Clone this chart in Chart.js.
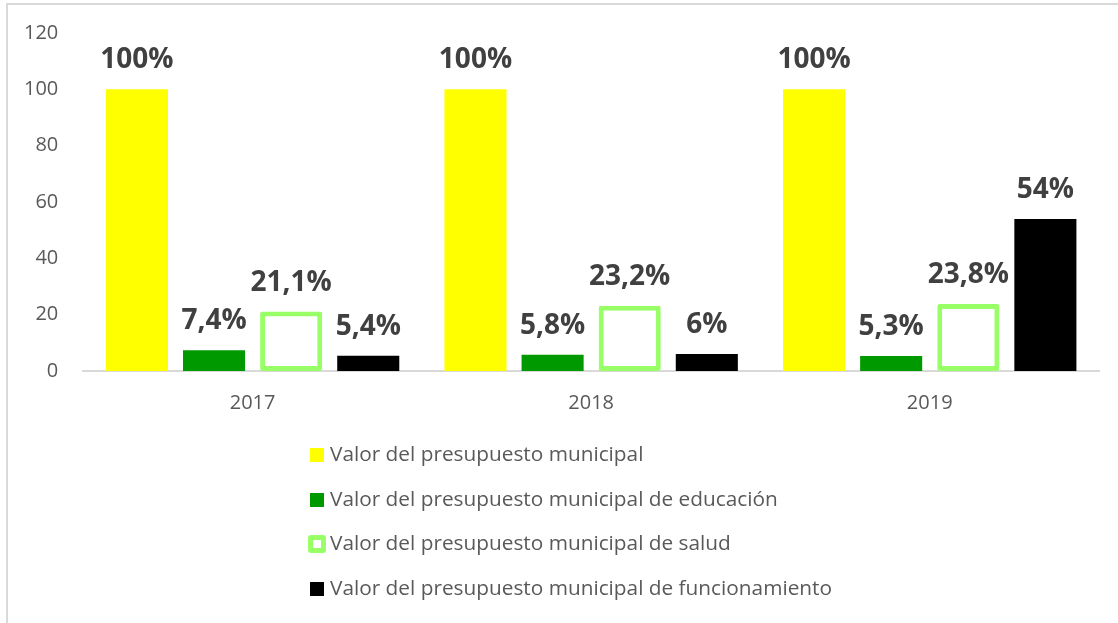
<!DOCTYPE html>
<html>
<head>
<meta charset="utf-8">
<title>Presupuesto municipal</title>
<script src="https://cdn.jsdelivr.net/npm/chart.js"></script>
<style>
  body { margin: 0; background: #fff; }
  canvas { display: block; }
</style>
</head>
<body>
<canvas id="myChart" width="1118" height="623"></canvas>
<script>
// datos del grafico
const anios = ["2017", "2018", "2019"];
const municipal = [100, 100, 100];
const educacion = [7.4, 5.8, 5.3];
const salud = [21.1, 23.2, 23.8];
const funcionamiento = [5.4, 6, 54];
const ticksY = [0, 20, 40, 60, 80, 100, 120];

const nombres = [
  "Valor del presupuesto municipal",
  "Valor del presupuesto municipal de educación",
  "Valor del presupuesto municipal de salud",
  "Valor del presupuesto municipal de funcionamiento"
];

const fuente = "'Open Sans', 'Noto Sans', sans-serif";

// etiquetas con el porcentaje encima de cada barra
const etiquetas = {
  id: "etiquetas",
  afterDatasetsDraw(chart) {
    const ctx = chart.ctx;
    const y = chart.scales.y;
    ctx.save();
    ctx.font = "bold 28px " + fuente;
    ctx.fillStyle = "#404040";
    ctx.textAlign = "center";
    ctx.textBaseline = "middle";
    chart.data.datasets.forEach(function(ds, i) {
      chart.getDatasetMeta(i).data.forEach(function(bar, j) {
        const v = ds.data[j];
        const txt = String(v).replace(".", ",") + "%";
        ctx.fillText(txt, bar.x, y.getPixelForValue(v) - 29);
      });
    });
    ctx.restore();
  }
};

// leyenda en columna debajo del eje
const leyenda = {
  id: "leyenda",
  afterDraw(chart) {
    const ctx = chart.ctx;
    const x0 = 310;
    const filas = [455, 500, 544, 589];
    ctx.save();
    ctx.font = "20.8px " + fuente;
    ctx.textBaseline = "middle";
    chart.data.datasets.forEach(function(ds, i) {
      const yc = filas[i];
      if (ds.borderWidth > 0) {
        ctx.fillStyle = ds.borderColor;
        ctx.beginPath();
        ctx.roundRect(x0 - 2, yc - 9, 18, 18, 3);
        ctx.fill();
        ctx.fillStyle = "#fff";
        ctx.fillRect(x0 + 3, yc - 4, 8, 8);
      } else {
        ctx.fillStyle = ds.backgroundColor;
        ctx.fillRect(x0, yc - 7, 14, 14);
      }
      ctx.fillStyle = "#595959";
      ctx.fillText(ds.label, x0 + 20, yc);
    });
    ctx.restore();
  }
};

// marco gris del area del grafico
const marco = {
  id: "marco",
  beforeDraw(chart) {
    const ctx = chart.ctx;
    ctx.save();
    ctx.strokeStyle = "#d9d9d9";
    ctx.lineWidth = 2;
    ctx.beginPath();
    ctx.moveTo(7, chart.height);
    ctx.lineTo(7, 4);
    ctx.lineTo(chart.width, 4);
    ctx.stroke();
    ctx.restore();
  }
};

const ctx = document.getElementById("myChart").getContext("2d");
const myChart = new Chart(ctx, {
  type: "bar",
  data: {
    labels: anios,
    datasets: [
      { label: nombres[0], data: municipal, backgroundColor: "#ffff00", borderWidth: 0 },
      { label: nombres[1], data: educacion, backgroundColor: "#009900", borderWidth: 0 },
      { label: nombres[2], data: salud, backgroundColor: "#ffffff", borderColor: "#99ff66",
        borderWidth: 5, borderSkipped: false, borderRadius: 2 },
      { label: nombres[3], data: funcionamiento, backgroundColor: "#000000", borderWidth: 0 }
    ]
  },
  options: {
    responsive: false,
    animation: false,
    categoryPercentage: 0.911,
    barPercentage: 0.805,
    layout: { padding: { left: 7, right: 19, top: 33, bottom: 196 } },
    plugins: {
      legend: { display: false },
      tooltip: { enabled: false }
    },
    scales: {
      x: {
        grid: { display: false },
        border: { color: "#d9d9d9", width: 2 },
        ticks: { color: "#595959", font: { family: fuente, size: 20 }, padding: 12 }
      },
      y: {
        min: 0,
        max: 120,
        afterBuildTicks(axis) {
          axis.ticks = ticksY.map(function(v) { return { value: v }; });
        },
        grid: { display: false },
        border: { display: false },
        ticks: { color: "#595959", font: { family: fuente, size: 20 }, padding: 17 }
      }
    }
  },
  plugins: [marco, etiquetas, leyenda]
});
</script>
</body>
</html>
